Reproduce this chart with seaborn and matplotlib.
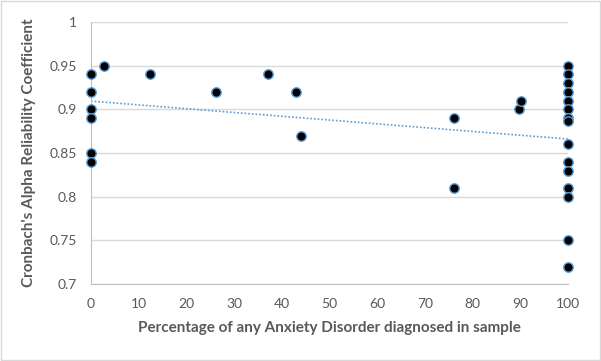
import numpy as np
import pandas as pd
import matplotlib
matplotlib.use("Agg")
import matplotlib.pyplot as plt
import seaborn as sns

pct = [0, 0, 0, 0, 0, 0, 2.7, 12.3, 26.3, 37.2, 43, 44, 76, 76, 89.7, 90.2,
       100, 100, 100, 100, 100, 100, 100, 100, 100, 100, 100, 100, 100, 100, 100]
alpha = [0.94, 0.92, 0.90, 0.89, 0.85, 0.84, 0.95, 0.94, 0.92, 0.94, 0.92, 0.87, 0.89, 0.81, 0.90, 0.91,
         0.95, 0.94, 0.93, 0.92, 0.91, 0.90, 0.89, 0.887, 0.86, 0.84, 0.83, 0.81, 0.80, 0.75, 0.72]
xticks = [0, 10, 20, 30, 40, 50, 60, 70, 80, 90, 100]
yticks = [0.7, 0.75, 0.8, 0.85, 0.9, 0.95, 1.0]
ytick_labels = ["0.7", "0.75", "0.8", "0.85", "0.9", "0.95", "1"]

df = pd.DataFrame({"pct": pct, "alpha": alpha})

sns.set_style("white")
plt.rcParams["font.family"] = ["Lato", "DejaVu Sans"]

fig = plt.figure(figsize=(6.01, 3.61), dpi=100)
ax = fig.add_axes([0.1514, 0.213, 0.7937, 0.726])

txt = "#595959"
ax.set_axisbelow(True)
ax.yaxis.grid(True, color="#D9D9D9", lw=1)
ax.xaxis.grid(False)

sns.regplot(data=df, x="pct", y="alpha", scatter=False, ci=None, ax=ax,
            line_kws=dict(color="#5B9BD5", ls=(0, (1, 1.2)), lw=1.2))
sns.scatterplot(data=df, x="pct", y="alpha", ax=ax, color="black", s=46,
                edgecolor="#5B9BD5", linewidth=1, zorder=3, clip_on=False)

ax.set_xlim(0, 100)
ax.set_ylim(0.7, 1.0)
ax.set_xticks(xticks)
ax.set_xticklabels([str(t) for t in xticks])
ax.set_yticks(yticks)
ax.set_yticklabels(ytick_labels)
ax.tick_params(axis="x", colors=txt, labelsize=10, length=4, width=0.8,
               color="#BFBFBF", direction="out", pad=6)
ax.tick_params(axis="y", colors=txt, labelsize=10, length=0, pad=10)
for s in ["top", "right"]:
    ax.spines[s].set_visible(False)
for s in ["left", "bottom"]:
    ax.spines[s].set_color("#BFBFBF")
    ax.spines[s].set_linewidth(0.8)

ax.set_xlabel("Percentage of any Anxiety Disorder diagnosed in sample",
              fontsize=11, fontweight="bold", color=txt, labelpad=8)
ax.set_ylabel("Cronbach's Alpha Reliability Coefficient",
              fontsize=11, fontweight="bold", color=txt, labelpad=10)

fig.patches.append(plt.Rectangle((0.001, 0.002), 0.997, 0.995, transform=fig.transFigure,
                                 fill=False, edgecolor="#D9D9D9", lw=1))
fig.savefig("out.png", dpi=100)
